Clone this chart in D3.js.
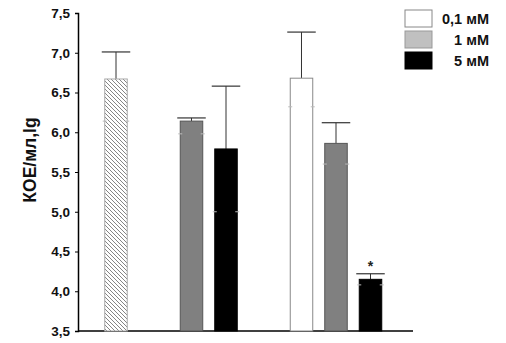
<!DOCTYPE html>
<html>
<head>
<meta charset="utf-8">
<script src="https://cdn.jsdelivr.net/npm/d3@7"></script>
<style>
  body { margin: 0; background: #fff; }
  text { font-family: "Liberation Sans", Arial, sans-serif; font-weight: bold; }
</style>
</head>
<body>
<div id="chart"></div>
<script>
// values
var groups = ["g1", "g2", "g3"];
var barGroup = ["g1", "g2", "g2", "g3", "g3", "g3"];
var barSlot = [1, 0, 1, 0, 1, 2];
var barKind = ["hatch", "1", "5", "0.1", "1", "5"];
var barValue = [6.67, 6.14, 5.79, 6.68, 5.86, 4.15];
var barErrTop = [7.01, 6.18, 6.58, 7.26, 6.12, 4.22];
var barErrLow = [6.14, 5.98, 5.0, 6.32, 5.6, 4.08];
var yTicks = [3.5, 4.0, 4.5, 5.0, 5.5, 6.0, 6.5, 7.0, 7.5];
var legendLabels = ["0,1 мМ", "1 мМ", "5 мМ"];
var legendKinds = ["0.1", "1l", "5"];

var fills = {"0.1": "#ffffff", "1": "#808080", "1l": "#c0c0c0", "5": "#000000", "hatch": "url(#hatch)"};
var strokes = {"0.1": "#888", "1": "#555", "1l": "#999", "5": "#000", "hatch": "#aaa"};

var svg = d3.select("#chart").append("svg")
  .attr("width", 506)
  .attr("height", 343);

var defs = svg.append("defs");
var pat = defs.append("pattern")
  .attr("id", "hatch")
  .attr("patternUnits", "userSpaceOnUse")
  .attr("width", 4)
  .attr("height", 4);
pat.append("rect").attr("width", 4).attr("height", 4).attr("fill", "#fff");
pat.append("path")
  .attr("d", "M0,0 L4,4 M-1,3 L1,5 M3,-1 L5,1")
  .attr("stroke", "#666")
  .attr("stroke-width", 0.8);

var y = d3.scaleLinear().domain([3.5, 7.5]).range([331, 13]);
var x0 = d3.scaleBand().domain(groups).range([61, 391]);
var x1 = d3.scaleBand().domain([0, 1, 2]).range([0, 110])
  .paddingInner(0.3478).paddingOuter(0.268);

// y axis
var yAxis = d3.axisLeft(y)
  .tickValues(yTicks)
  .tickSize(3)
  .tickPadding(5)
  .tickFormat(function(d){ return d3.format(".1f")(d).replace(".", ","); });

var ag = svg.append("g")
  .attr("transform", "translate(78,0)")
  .call(yAxis);
ag.select(".domain").attr("stroke", "#000").attr("stroke-width", 1.5);
ag.selectAll(".tick line").attr("stroke", "#000");
ag.selectAll(".tick text")
  .attr("font-size", 13.5)
  .attr("fill", "#111");

// x axis line
svg.append("line")
  .attr("x1", 78)
  .attr("x2", 413)
  .attr("y1", y(3.5))
  .attr("y2", y(3.5))
  .attr("stroke", "#000")
  .attr("stroke-width", 1.5);

// y label
svg.append("text")
  .attr("transform", "translate(36,160) rotate(-90)")
  .attr("text-anchor", "middle")
  .attr("font-size", 17.5)
  .attr("fill", "#111")
  .text("КОЕ/мл,lg");

var bw = x1.bandwidth();
var bars = barValue.map(function(v, i){
  return {x: x0(barGroup[i]) + x1(barSlot[i]), v: v, top: barErrTop[i], low: barErrLow[i], kind: barKind[i]};
});

var bg = svg.append("g");

// error bars (upper)
bg.selectAll("line.err").data(bars).enter().append("line")
  .attr("x1", d => d.x + bw / 2)
  .attr("x2", d => d.x + bw / 2)
  .attr("y1", d => y(d.v))
  .attr("y2", d => y(d.top))
  .attr("stroke", "#333")
  .attr("stroke-width", 1);

bg.selectAll("line.cap").data(bars).enter().append("line")
  .attr("x1", d => d.x - 3)
  .attr("x2", d => d.x + bw + 3)
  .attr("y1", d => y(d.top))
  .attr("y2", d => y(d.top))
  .attr("stroke", "#333")
  .attr("stroke-width", 1.2);

bg.selectAll("rect.bar").data(bars).enter().append("rect")
  .attr("x", d => d.x)
  .attr("y", d => y(d.v))
  .attr("width", bw)
  .attr("height", d => y(3.5) - y(d.v))
  .attr("fill", d => fills[d.kind])
  .attr("stroke", d => strokes[d.kind])
  .attr("stroke-width", 1);

// faint lower caps peeking at bar edges
bg.selectAll("g.low").data(bars).enter().append("g")
  .each(function(d){
    var g = d3.select(this);
    [[d.x - 2, d.x + 2], [d.x + bw - 2, d.x + bw + 2]].forEach(function(p){
      g.append("line")
        .attr("x1", p[0]).attr("x2", p[1])
        .attr("y1", y(d.low)).attr("y2", y(d.low))
        .attr("stroke", "#bbb")
        .attr("stroke-width", 1);
    });
  });

// significance mark
svg.append("text")
  .attr("x", bars[5].x + bw / 2)
  .attr("y", y(barErrTop[5]) - 3)
  .attr("text-anchor", "middle")
  .attr("font-size", 14)
  .attr("font-weight", "normal")
  .attr("fill", "#222")
  .text("*");

// legend
var lg = svg.append("g").attr("transform", "translate(405,10)");
legendLabels.forEach(function(l, i){
  lg.append("rect")
    .attr("x", 0)
    .attr("y", i * 21)
    .attr("width", 27)
    .attr("height", 17)
    .attr("fill", fills[legendKinds[i]])
    .attr("stroke", strokes[legendKinds[i]])
    .attr("stroke-width", 1);
  lg.append("text")
    .attr("x", 84)
    .attr("y", i * 21 + 14)
    .attr("text-anchor", "end")
    .attr("font-size", 14.5)
    .attr("fill", "#111")
    .text(l);
});
</script>
</body>
</html>
